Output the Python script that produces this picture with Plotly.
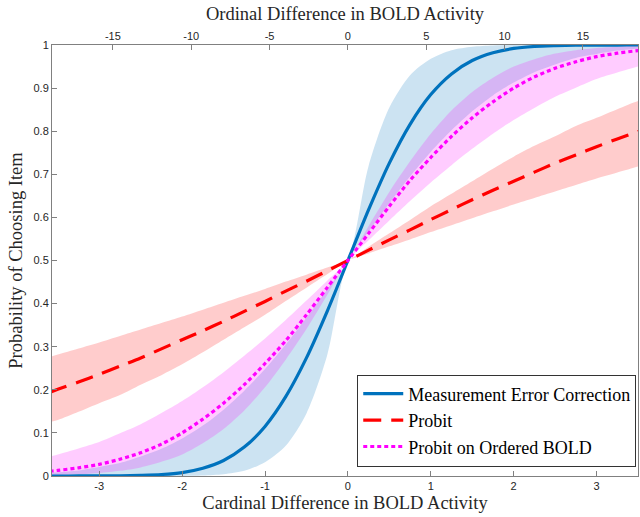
import plotly.graph_objects as go

# Cardinal difference grid (bottom axis)
x_card = [-3.6, -3.5, -3.25, -3.0, -2.75, -2.5, -2.25, -2.0, -1.75, -1.5, -1.25, -1.0, -0.75, -0.5, -0.25,
          0.0, 0.25, 0.5, 0.75, 1.0, 1.25, 1.5, 1.75, 2.0, 2.25, 2.5, 2.75, 3.0, 3.25, 3.5, 3.6]

# Measurement Error Correction (blue)
mec_line = [0.0, 0.0, 0.0001, 0.0002, 0.0006, 0.0016, 0.0035, 0.008, 0.018, 0.036, 0.067, 0.115, 0.184, 0.274, 0.382,
            0.5, 0.618, 0.726, 0.816, 0.885, 0.933, 0.964, 0.982, 0.992, 0.9965, 0.9984, 0.9994, 0.9998, 0.9999, 1.0, 1.0]
mec_upper = [0.007, 0.0085, 0.013, 0.021, 0.030, 0.045, 0.063, 0.087, 0.117, 0.154, 0.198, 0.248, 0.305, 0.367, 0.433,
             0.5, 0.72, 0.855, 0.93, 0.968, 0.988, 0.996, 0.999, 1.0, 1.0, 1.0, 1.0, 1.0, 1.0, 1.0, 1.0]
mec_lower = [0.0, 0.0, 0.0, 0.0, 0.0, 0.0, 0.0, 0.0, 0.001, 0.004, 0.012, 0.032, 0.07, 0.145, 0.28,
             0.5, 0.567, 0.633, 0.695, 0.752, 0.802, 0.846, 0.883, 0.913, 0.937, 0.955, 0.970, 0.979, 0.987, 0.9915, 0.993]

# Probit (red)
probit_line = [0.194, 0.201, 0.218, 0.236, 0.255, 0.274, 0.295, 0.316, 0.337, 0.359, 0.382, 0.405, 0.429, 0.452, 0.476,
               0.5, 0.524, 0.548, 0.571, 0.595, 0.618, 0.641, 0.663, 0.684, 0.705, 0.726, 0.745, 0.764, 0.782, 0.799, 0.806]
probit_upper = [0.276, 0.282, 0.296, 0.310, 0.325, 0.340, 0.355, 0.370, 0.386, 0.402, 0.418, 0.434, 0.451, 0.467, 0.4835,
                0.5, 0.532, 0.563, 0.594, 0.626, 0.655, 0.684, 0.713, 0.741, 0.766, 0.788, 0.812, 0.831, 0.851, 0.870, 0.875]
probit_lower = [0.125, 0.130, 0.149, 0.169, 0.188, 0.212, 0.234, 0.259, 0.287, 0.316, 0.345, 0.374, 0.406, 0.437, 0.468,
                0.5, 0.5165, 0.533, 0.549, 0.566, 0.582, 0.598, 0.614, 0.630, 0.645, 0.660, 0.675, 0.690, 0.704, 0.718, 0.724]

# Probit on Ordered BOLD (magenta)
ordered_line = [0.011, 0.013, 0.019, 0.027, 0.039, 0.054, 0.074, 0.100, 0.132, 0.169, 0.212, 0.261, 0.314, 0.374, 0.437,
                0.5, 0.563, 0.626, 0.686, 0.739, 0.788, 0.831, 0.868, 0.900, 0.926, 0.946, 0.961, 0.973, 0.981, 0.987, 0.989]
ordered_upper = [0.045, 0.050, 0.064, 0.079, 0.099, 0.120, 0.146, 0.174, 0.206, 0.241, 0.279, 0.319, 0.362, 0.407, 0.453,
                 0.5, 0.580, 0.659, 0.730, 0.794, 0.848, 0.891, 0.924, 0.950, 0.967, 0.980, 0.988, 0.993, 0.996, 0.998, 0.998]
ordered_lower = [0.002, 0.002, 0.004, 0.007, 0.012, 0.020, 0.033, 0.050, 0.076, 0.109, 0.152, 0.206, 0.270, 0.341, 0.420,
                 0.5, 0.547, 0.593, 0.638, 0.681, 0.721, 0.759, 0.794, 0.826, 0.854, 0.880, 0.901, 0.921, 0.936, 0.950, 0.955]

bottom_ticks = [-3, -2, -1, 0, 1, 2, 3]
top_ticks = [-15, -10, -5, 0, 5, 10, 15]
y_ticks = [0, 0.1, 0.2, 0.3, 0.4, 0.5, 0.6, 0.7, 0.8, 0.9, 1]
y_tick_labels = ["0", "0.1", "0.2", "0.3", "0.4", "0.5", "0.6", "0.7", "0.8", "0.9", "1"]

x_range = [-3.57, 3.5]
ratio = 5.29
x2_range = [x_range[0] * ratio, x_range[1] * ratio]

BLUE = "#0072BD"
RED = "#FF0000"
MAG = "#FF00FF"
SERIF = "Liberation Serif"
SANS = "Liberation Sans"

fig = go.Figure()

def band(upper, lower, fill):
    fig.add_trace(go.Scatter(x=x_card, y=lower, mode="lines", line=dict(width=0, shape="spline", smoothing=0.8),
                             showlegend=False, hoverinfo="skip"))
    fig.add_trace(go.Scatter(x=x_card, y=upper, mode="lines", line=dict(width=0, shape="spline", smoothing=0.8),
                             fill="tonexty", fillcolor=fill, showlegend=False, hoverinfo="skip"))

band(mec_upper, mec_lower, "rgba(0,114,189,0.2)")
band(probit_upper, probit_lower, "rgba(255,0,0,0.2)")
band(ordered_upper, ordered_lower, "rgba(255,0,255,0.2)")

fig.add_trace(go.Scatter(x=x_card, y=mec_line, mode="lines", name="Measurement Error Correction",
                         line=dict(color=BLUE, width=3.2, shape="spline", smoothing=0.8)))
fig.add_trace(go.Scatter(x=x_card, y=probit_line, mode="lines", name="Probit",
                         line=dict(color=RED, width=3.2, dash="18px,10px", shape="spline", smoothing=0.8)))
fig.add_trace(go.Scatter(x=x_card, y=ordered_line, mode="lines", name="Probit on Ordered BOLD",
                         line=dict(color=MAG, width=3.2, dash="4px,3px", shape="spline", smoothing=0.8)))
# invisible trace to activate top axis
fig.add_trace(go.Scatter(x=[0], y=[0.5], xaxis="x2", mode="markers", marker=dict(opacity=0),
                         showlegend=False, hoverinfo="skip"))

axis_common = dict(showgrid=False, zeroline=False, showline=True, linecolor="#808080", linewidth=1,
                   ticks="inside", ticklen=5, tickcolor="#808080",
                   tickfont=dict(family=SANS, size=11, color="#262626"))

fig.update_layout(
    width=640, height=517,
    margin=dict(l=52, r=2, t=45, b=41),
    paper_bgcolor="white", plot_bgcolor="white",
    xaxis=dict(range=x_range, tickvals=bottom_ticks, ticktext=[str(t) for t in bottom_ticks],
               title=dict(text="Cardinal Difference in BOLD Activity", font=dict(family=SERIF, size=18.5, color="#262626"),
                          standoff=4),
               **axis_common),
    xaxis2=dict(range=x2_range, overlaying="x", side="top", anchor="y", tickvals=top_ticks,
                ticktext=[str(t) for t in top_ticks],
                title=dict(text="Ordinal Difference in BOLD Activity", font=dict(family=SERIF, size=18.5, color="#262626"),
                           standoff=4),
                **axis_common),
    yaxis=dict(range=[0, 1], tickvals=y_ticks, ticktext=y_tick_labels, mirror=True,
               title=dict(text="Probability of Choosing Item", font=dict(family=SERIF, size=18.5, color="#262626"),
                          standoff=6),
               **axis_common),
    legend=dict(x=0.997, y=0.022, xanchor="right", yanchor="bottom", bgcolor="white",
                bordercolor="#333333", borderwidth=1, font=dict(family=SERIF, size=18, color="#000000"),
                tracegroupgap=0, itemwidth=40, traceorder="normal"),
    showlegend=True,
)

fig.write_html("out.html")
